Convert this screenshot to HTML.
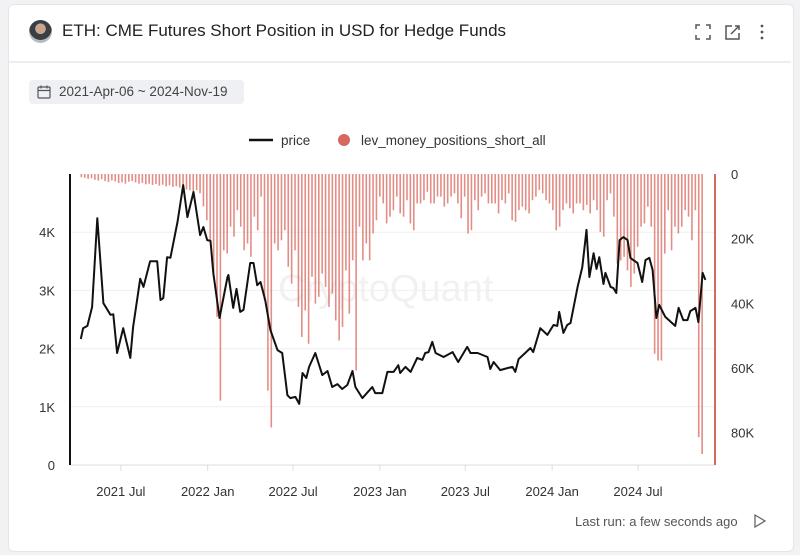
<!DOCTYPE html>
<html><head><meta charset="utf-8">
<style>
body{margin:0;width:800px;height:555px;background:#f2f2f4;font-family:"Liberation Sans",sans-serif;overflow:hidden}
#card{position:absolute;left:8px;top:4px;width:784px;height:546px;background:#fff;border-radius:6px;border:1px solid #e6e6e9}
.t{position:absolute;white-space:nowrap}
</style></head><body>
<div id="card"></div>
<div class="t" style="left:29px;top:20px;width:23px;height:23px;border-radius:50%;background:radial-gradient(circle at 50% 38%,#c9a58e 0 28%,#3a3f46 30% 60%,#b8bcc2 62%)"></div>
<div class="t" style="left:62px;top:21px;font-size:17px;color:#222">ETH: CME Futures Short Position in USD for Hedge Funds</div>
<svg class="t" style="left:690px;top:20px" width="90" height="24">
<g fill="none" stroke="#555" stroke-width="1.5">
<path d="M6 9V5h4M16 5h4v4M20 15v4h-4M10 19H6v-4"/>
<path d="M42 6h-6v13h13v-6M41 14l8-8M45 6h4v4"/>
</g>
<g fill="#555"><circle cx="72" cy="6" r="1.4"/><circle cx="72" cy="12" r="1.4"/><circle cx="72" cy="18" r="1.4"/></g>
</svg>
<div class="t" style="left:9px;top:61px;width:782px;height:2px;background:#eeeef0"></div>
<div class="t" style="left:29px;top:80px;width:215px;height:24px;background:#eef0f3;border-radius:4px;font-size:13.5px;color:#444;line-height:24px">
<svg style="position:absolute;left:8px;top:5px" width="15" height="14"><rect x="1" y="2" width="12" height="11" fill="none" stroke="#555" stroke-width="1.2" rx="1"/><path d="M1 5.5h12M4 0.5v3M10 0.5v3" stroke="#555" stroke-width="1.2"/></svg>
<span style="position:absolute;left:30px">2021-Apr-06 ~ 2024-Nov-19</span></div>
<div class="t" style="left:278px;top:268px;font-size:38px;color:#000;opacity:0.05">CryptoQuant</div>
<svg id="chart" class="t" style="left:0;top:0" width="800" height="555"></svg>
<div class="t" style="left:575px;top:514px;font-size:13px;color:#555">Last run: a few seconds ago</div>
<svg class="t" style="left:753px;top:513px" width="14" height="16"><path d="M2 2l10 6-10 6z" fill="none" stroke="#666" stroke-width="1.3"/></svg>
<script>
const priceDays=[1,6,15,25,36,49,64,70,78,91,106,112,127,134,148,163,170,176,184,191,206,218,227,240,254,261,269,276,282,295,312,314,324,331,339,346,360,367,375,382,392,403,418,428,439,445,456,464,471,479,485,498,513,524,534,545,555,566,577,583,598,619,625,640,651,664,674,678,689,700,714,725,731,738,746,753,770,789,801,820,827,842,863,869,876,890,905,916,922,929,943,954,960,975,990,1003,1011,1015,1024,1032,1039,1054,1064,1073,1079,1088,1094,1100,1109,1113,1124,1130,1136,1143,1151,1160,1166,1172,1181,1191,1198,1206,1213,1221,1227,1240,1261,1268,1278,1287,1293,1304,1310,1319,1325];
const priceVals=[2165,2350,2390,2715,4240,2780,2580,2590,1925,2350,1840,2370,3200,3060,3500,3500,2835,2870,3570,3560,4175,4810,4260,4690,3950,4090,3865,3850,3300,2525,3230,3265,2700,3025,2630,2665,3470,3470,3090,3145,2835,2320,1975,1925,1200,1150,1170,1050,1580,1495,1685,1925,1545,1615,1340,1390,1305,1375,1615,1340,1150,1340,1235,1235,1600,1600,1715,1580,1685,1600,1840,1805,1925,1940,2115,1925,1855,1940,1770,2030,1925,1925,1855,1650,1770,1630,1665,1685,1600,1820,1925,2010,1940,2350,2235,2405,2390,2630,2270,2405,2440,3060,3400,4040,3230,3640,3370,3570,3110,3300,3060,3040,2955,3865,3915,3865,3560,3520,3470,3145,3520,3560,3350,2525,2750,2545,2390,2700,2490,2490,2645,2700,2455,3300,3180];
const shortK=[1,1.2,1.5,1.3,1.8,2,1.6,2.2,2.5,2,2.3,2.8,2.6,3,2.4,2.2,2.6,3,2.8,3.2,3,3.4,3.1,3.6,3.3,3.8,3.5,4,3.8,4.2,4.5,4.8,5,5.5,5,6,10,
14.3,20.5,31.8,44.2,70.1,23.6,24.6,16.3,19.4,11.2,16.3,23.6,21.5,25.6,13.2,17.4,7,39.1,67,78.4,21.5,23.6,20.5,17.4,28.7,33.9,23.6,41.1,50.4,42.2,52.5,31.8,40.1,38,30.8,34.9,41.1,37,45.3,51.5,47.3,29.8,43.2,26.7,60.8,16.3,26.7,21.5,26.7,18.4,14.3,7,9.1,15.3,13.2,
11.2,7,12.2,13.2,8.1,15.3,17.4,9.1,9.1,8.1,5.5,9.1,9.1,7,7,10.1,9.1,7,6,9.1,13.7,7,18.4,17.4,8.1,11.2,7,6,9.1,9.1,9.1,12.2,8.1,9.1,6,14.3,14.8,11.2,10.1,11.2,12.2,8.1,7,4.9,6,8.1,9.1,11.2,17.4,16.3,11.2,9.1,10.6,12.2,9.1,9.1,11.2,9.6,12.2,8.1,11.2,17.9,19.4,8.1,6,13.2,27.7,26.7,25.6,29.8,34.9,30.8,22.5,16.3,15.3,10.1,16.3,55.6,57.7,57.7,24.6,11.2,23.6,16.3,18.4,16.3,11.2,13.2,20.5,11.2,81.4,86.6];
const leftTicks=[0,1000,2000,3000,4000];
const leftLabels=["0","1K","2K","3K","4K"];
const rightTicks=[0,20000,40000,60000,80000];
const rightLabels=["0","20K","40K","60K","80K"];
const xTickDays=[86,270,451,635,816,1000,1182];
const xTickLabels=["2021 Jul","2022 Jan","2022 Jul","2023 Jan","2023 Jul","2024 Jan","2024 Jul"];
const totalDays=1323;

const NS="http://www.w3.org/2000/svg";
const svg=document.getElementById('chart');
const X0=80.3,X1=704.5,Y0=465,Ytop=174;
const xs=d=>X0+(X1-X0)*d/totalDays;
const yL=v=>Y0-(Y0-Ytop)*v/5000;
const yR=v=>Ytop+(Y0-Ytop)*v/90000;
function mk(tag,attrs){const e=document.createElementNS(NS,tag);for(const k in attrs)e.setAttribute(k,attrs[k]);svg.appendChild(e);return e;}

leftTicks.forEach((v,i)=>{
  if(v>0){const g=mk('line',{x1:70,x2:715,y1:yL(v),y2:yL(v),stroke:'#efefef','stroke-width':1});
  
  }
  const t=mk('text',{x:55,y:yL(v)+5,'text-anchor':'end','font-size':13,fill:'#333','font-family':'Liberation Sans'});
  t.textContent=leftLabels[i];
  
  
});
rightTicks.forEach((v,i)=>{
  const t=mk('text',{x:731,y:yR(v)+5,'font-size':13,fill:'#333','font-family':'Liberation Sans'});
  t.textContent=rightLabels[i];
  
  
});
const xa=mk('line',{x1:70,x2:715,y1:Y0,y2:Y0,stroke:'#ddd'});


xTickDays.forEach((d,i)=>{
  const tk=mk('line',{x1:xs(d),x2:xs(d),y1:Y0,y2:Y0+6,stroke:'#ddd'});
  
  
  const t=mk('text',{x:xs(d),y:496,'text-anchor':'middle','font-size':13,fill:'#333','font-family':'Liberation Sans'});
  t.textContent=xTickLabels[i];
  
  
});
const n=shortK.length;
shortK.forEach((v,i)=>{
  const x=xs(totalDays*(i+0.3)/(n));
  const b=mk('rect',{x:x-0.8,y:Ytop,width:1.6,height:yR(v*1000)-Ytop,fill:'#d8685e','fill-opacity':0.75});
  
  
});
const la=mk('line',{x1:70,x2:70,y1:Ytop,y2:Y0,stroke:'#111','stroke-width':2});


const ra=mk('line',{x1:715,x2:715,y1:Ytop,y2:Y0,stroke:'#d8685e','stroke-width':2});


const p=mk('polyline',{points:priceDays.map((d,i)=>xs(d).toFixed(1)+','+yL(priceVals[i]).toFixed(1)).join(' '),fill:'none',stroke:'#111','stroke-width':2,'stroke-linejoin':'round'});


// legend
const l1=mk('line',{x1:249,x2:273,y1:140,y2:140,stroke:'#111','stroke-width':2.5});


const lt1=mk('text',{x:281,y:145,'font-size':13.5,fill:'#333','font-family':'Liberation Sans'});
lt1.textContent='price';


const c=mk('circle',{cx:344,cy:140,r:6,fill:'#d8685e'});


const lt2=mk('text',{x:361,y:145,'font-size':13.5,fill:'#333','font-family':'Liberation Sans'});
lt2.textContent='lev_money_positions_short_all';


</script>
</body></html>
